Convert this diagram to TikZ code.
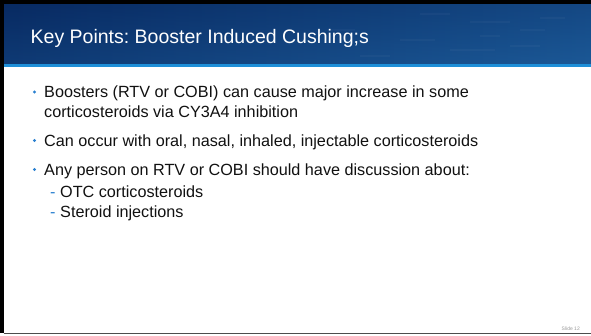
\documentclass[tikz,border=0pt]{standalone}
\usepackage{fontspec}
\setmainfont{Liberation Sans}
\frenchspacing
\definecolor{navyL}{HTML}{082A62}
\definecolor{navyR}{HTML}{1B5896}
\definecolor{accent}{HTML}{1E8FD8}
\definecolor{bulletblue}{HTML}{2A80D0}
\definecolor{bodytext}{HTML}{111111}
\begin{document}
\begin{tikzpicture}[x=1pt,y=-1pt,
  titletext/.style={anchor=base west,inner sep=0pt,text=white,font=\fontsize{19.5}{23}\selectfont},
  bodyline/.style={anchor=base west,inner sep=0pt,text=bodytext,font=\fontsize{16.2}{19.5}\selectfont},
  dot/.style={circle,fill=bulletblue,inner sep=0pt,minimum size=3.4pt},
  dashmark/.style={anchor=base west,inner sep=0pt,text=bulletblue,font=\fontsize{16.2}{19.5}\selectfont},
  footer/.style={anchor=base east,inner sep=0pt,text=black!40,font=\fontsize{5}{6}\selectfont}]
\useasboundingbox (0,0) rectangle (591,336);
\fill[white] (0,0) rectangle (591,336);
% header
\shade[left color=navyL,right color=navyR] (3.5,4) rectangle (591,64);
\shade[top color=navyL,bottom color=navyR,opacity=0.35] (3.5,4) rectangle (591,64);
\foreach \sx/\sy/\sl in {420/14/30,470/22/40,520/30/25,400/40/35,450/50/45,510/46/30,360/56/30,540/18/25,330/30/25,480/36/20}
  \draw[white,opacity=0.03,line width=2pt] (\sx,\sy) -- ++(\sl,0);
\fill[accent] (3.5,64) rectangle (591,67);
% black frame
\fill[black] (0,0) rectangle (591,4);
\fill[black] (0,0) rectangle (3.5,333);
% bottom line
\draw[black!70,line width=1pt] (3.5,333) -- (591,333);
% title
\node[titletext] (title) at (30.5,44) {Key Points: Booster Induced Cushing;s};
% bullets
\node[dot] (b1) at (34.5,92) {};
\node[bodyline] (l1a) at (44,98) {Boosters (RTV or COBI) can cause major increase in some};
\node[bodyline] (l1b) at (44,117.5) {corticosteroids via CY3A4 inhibition};
\node[dot] (b2) at (34.5,140.5) {};
\node[bodyline] (l2) at (44,146.5) {Can occur with oral, nasal, inhaled, injectable corticosteroids};
\node[dot] (b3) at (34.5,169.5) {};
\node[bodyline] (l3) at (44,175.5) {Any person on RTV or COBI should have discussion about:};
\node[dashmark] (d1) at (50,198) {-};
\node[bodyline] (s1) at (60,198) {OTC corticosteroids};
\node[dashmark] (d2) at (50,218) {-};
\node[bodyline] (s2) at (60,218) {Steroid injections};
% footer
\node[footer] (slideno) at (580,330) {Slide 12};
\end{tikzpicture}
\end{document}
